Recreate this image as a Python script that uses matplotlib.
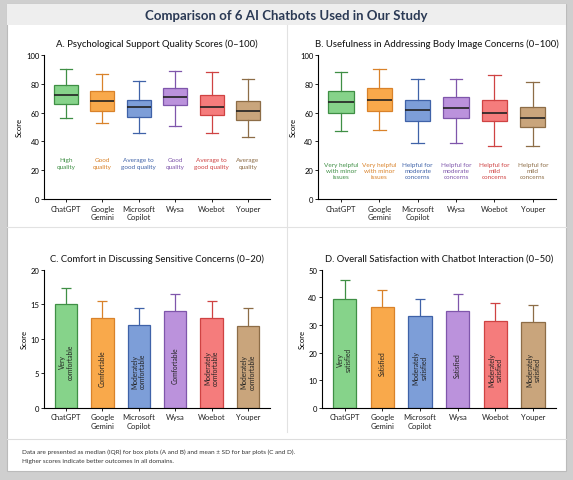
import numpy as np
import matplotlib
matplotlib.use("Agg")
import matplotlib.pyplot as plt
from matplotlib.patches import Rectangle

plt.rcParams['font.family'] = ['Lato', 'DejaVu Sans']

bots = ["ChatGPT", "Google\nGemini", "Microsoft\nCopilot", "Wysa", "Woebot", "Youper"]
fills = ["#86d38a", "#f9a94b", "#7d9ed8", "#bb92dc", "#f57c7c", "#c9a57c"]
edges = ["#3f8f45", "#d9822a", "#3f62a8", "#7f56ab", "#cf4343", "#8d6d47"]

# Panel A: psychological support quality (whislo, q1, med, q3, whishi)
a_stats = [(56, 66, 72, 79, 90), (53, 61, 68, 75, 87), (46, 57, 64, 69, 82),
           (51, 65, 71, 77, 89), (46, 58, 64, 72, 88), (43, 55, 61, 68, 83)]
a_labels = ["High\nquality", "Good\nquality", "Average to\ngood quality",
            "Good\nquality", "Average to\ngood quality", "Average\nquality"]

# Panel B: usefulness for body image concerns
b_stats = [(47, 60, 67, 75, 88), (48, 61, 69, 77, 90), (39, 54, 62, 69, 83),
           (39, 56, 63, 71, 83), (37, 54, 60, 69, 86), (37, 50, 56, 64, 81)]
b_labels = ["Very helpful\nwith minor\nissues", "Very helpful\nwith minor\nissues",
            "Helpful for\nmoderate\nconcerns", "Helpful for\nmoderate\nconcerns",
            "Helpful for\nmild\nconcerns", "Helpful for\nmild\nconcerns"]

# Panel C: comfort (mean, SD)
c_mean = [15.0, 13.0, 12.0, 14.0, 13.0, 11.9]
c_sd = [2.4, 2.5, 2.5, 2.5, 2.5, 2.6]
c_labels = ["Very\ncomfortable", "Comfortable", "Moderately\ncomfortable",
            "Comfortable", "Moderately\ncomfortable", "Moderately\ncomfortable"]

# Panel D: overall satisfaction (mean, SD)
d_mean = [39.5, 36.5, 33.2, 35.0, 31.6, 31.0]
d_sd = [6.7, 6.2, 6.1, 6.1, 6.4, 6.4]
d_labels = ["Very\nsatisfied", "Satisfied", "Moderately\nsatisfied",
            "Satisfied", "Moderately\nsatisfied", "Moderately\nsatisfied"]

fig = plt.figure(figsize=(5.73, 4.81), dpi=100)
fig.patch.set_facecolor("#cfcfcf")
fig.add_artist(Rectangle((0.012, 0.018), 0.976, 0.972, transform=fig.transFigure,
                         facecolor="white", edgecolor="#bbbbbb", lw=0.8, zorder=0))
fig.add_artist(Rectangle((0.012, 0.945), 0.976, 0.045, transform=fig.transFigure,
                         facecolor="#eeeeee", edgecolor="none", zorder=0))
# panel separators
fig.add_artist(plt.Line2D([0.5, 0.5], [0.10, 0.945], transform=fig.transFigure,
                          color="#e2e2e2", lw=0.8))
fig.add_artist(plt.Line2D([0.012, 0.988], [0.525, 0.525], transform=fig.transFigure,
                          color="#e2e2e2", lw=0.8))
fig.add_artist(plt.Line2D([0.012, 0.988], [0.085, 0.085], transform=fig.transFigure,
                          color="#dddddd", lw=0.8))

fig.text(0.5, 0.967, "Comparison of 6 AI Chatbots Used in Our Study", ha="center",
         va="center", fontsize=9.5, fontweight="bold", color="#2b3a55")

pos = np.arange(len(bots))


def style(ax, title, ymax, step):
    ax.set_title(title, fontsize=6.8, color="#1a1a1a", pad=6, fontweight="medium")
    ax.set_ylim(0, ymax)
    ax.set_yticks(np.arange(0, ymax + 1, step))
    ax.set_xlim(-0.6, 5.6)
    ax.set_xticks(pos)
    ax.set_xticklabels(bots, fontsize=5.5, color="#222222")
    ax.tick_params(axis="y", labelsize=5.5, length=2, width=0.6, pad=1.5)
    ax.tick_params(axis="x", length=2, width=0.6, pad=2)
    ax.set_ylabel("Score", fontsize=5.5, labelpad=2)
    for s in ["top", "right"]:
        ax.spines[s].set_visible(False)
    for s in ["left", "bottom"]:
        ax.spines[s].set_linewidth(0.8)


def boxpanel(ax, stats, labels, title, ly):
    bxp = [dict(whislo=s[0], q1=s[1], med=s[2], q3=s[3], whishi=s[4], fliers=[])
           for s in stats]
    for i, b in enumerate(bxp):
        ax.bxp([b], positions=[i], widths=0.66, patch_artist=True, showfliers=False,
               boxprops=dict(facecolor=fills[i], edgecolor=edges[i], lw=0.9),
               medianprops=dict(color="#222222", lw=1.2),
               whiskerprops=dict(color=edges[i], lw=0.9),
               capprops=dict(color=edges[i], lw=0.9))
        ax.text(i, ly, labels[i], ha="center", va="center", fontsize=4.6,
                color=edges[i], linespacing=1.3)
    style(ax, title, 100, 20)


def barpanel(ax, means, sds, labels, title, ymax, step):
    for i in range(len(means)):
        ax.errorbar(i, means[i], yerr=sds[i], color=edges[i], capsize=3.5,
                    lw=0.9, capthick=0.9, zorder=1)
        ax.bar(i, means[i], width=0.62, color=fills[i], edgecolor=edges[i],
               lw=0.9, zorder=2)
        ax.text(i, means[i] * 0.45, labels[i], rotation=90, ha="center",
                va="center", fontsize=4.8, color="#222222", linespacing=1.1, zorder=3)
    style(ax, title, ymax, step)


axA = fig.add_axes([0.077, 0.584, 0.394, 0.300])
boxpanel(axA, a_stats, a_labels, "A. Psychological Support Quality Scores (0\u2013100)", 25)

axB = fig.add_axes([0.555, 0.584, 0.415, 0.300])
boxpanel(axB, b_stats, b_labels, "B. Usefulness in Addressing Body Image Concerns (0\u2013100)", 20)

axC = fig.add_axes([0.077, 0.150, 0.394, 0.287])
barpanel(axC, c_mean, c_sd, c_labels, "C. Comfort in Discussing Sensitive Concerns (0\u201320)", 20, 5)

axD = fig.add_axes([0.562, 0.150, 0.408, 0.287])
barpanel(axD, d_mean, d_sd, d_labels, "D. Overall Satisfaction with Chatbot Interaction (0\u201350)", 50, 10)

fig.text(0.038, 0.060, "Data are presented as median (IQR) for box plots (A and B) and mean \u00b1 SD for bar plots (C and D).",
         fontsize=4.6, color="#333333", va="center")
fig.text(0.038, 0.040, "Higher scores indicate better outcomes in all domains.",
         fontsize=4.6, color="#333333", va="center")

fig.savefig("out.png", dpi=100, facecolor=fig.get_facecolor())
